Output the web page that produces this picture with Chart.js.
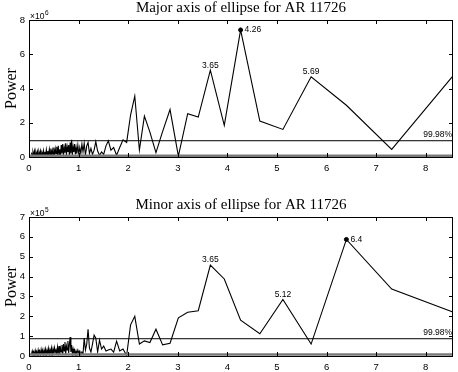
<!DOCTYPE html>
<html>
<head>
<meta charset="utf-8">
<script src="https://cdn.jsdelivr.net/npm/chart.js@4.4.0/dist/chart.umd.min.js"></script>
<style>
  body { margin: 0; background: #fff; }
  .box { position: absolute; left: 0; width: 458px; height: 186px; }
</style>
</head>
<body>
<div class="box" style="top:0"><canvas id="majorChart" width="458" height="186"></canvas></div>
<div class="box" style="top:186px"><canvas id="minorChart" width="458" height="186"></canvas></div>
<script>
// periods (x axis), shared by both panels
var periods = [
  0.05,0.065,0.08,0.095,0.11,0.125,0.14,0.155,0.17,0.185,0.2,0.215,0.23,0.245,0.26,0.275,
  0.29,0.305,0.32,0.335,0.35,0.365,0.38,0.395,0.41,0.425,0.44,0.455,0.47,0.485,0.5,0.515,
  0.53,0.545,0.56,0.575,0.59,0.605,0.62,0.635,0.65,0.665,0.68,0.695,0.71,0.725,0.74,0.755,
  0.77,0.785,0.8,0.815,0.83,0.845,0.86,0.875,0.89,0.905,0.92,0.935,0.95,0.965,
  0.985,1.004,1.024,1.045,1.067,1.089,1.113,1.138,1.164,1.191,1.219,1.249,1.28,1.313,1.347,1.384,
  1.422,1.463,1.506,1.552,1.6,1.652,1.707,1.766,1.829,1.896,1.969,2.048,2.133,2.226,2.327,2.438,
  2.56,2.695,2.844,3.012,3.2,3.413,3.657,3.938,4.267,4.655,5.12,5.689,6.4,7.314,8.533
];

// major axis power (x10^6)
var majorPower = [
  0.25,0.05,0.3,0.1,0.35,0.02,0.28,0.08,0.32,0.05,0.3,0.1,0.36,0.04,0.25,0.12,
  0.38,0.06,0.3,0.02,0.42,0.1,0.35,0.05,0.45,0.12,0.5,0.08,0.4,0.15,0.55,0.05,
  0.48,0.2,0.6,0.1,0.65,0.15,0.45,0.05,0.7,0.2,0.75,0.08,0.55,0.25,0.8,0.1,
  0.6,0.3,0.7,0.05,0.85,0.2,1.0,0.1,0.6,0.3,0.75,0.15,0.55,0.2,
  0.7,0.15,0.55,0.2,0.75,0.3,0.8,0.1,0.65,0.85,0.2,0.5,0.15,0.4,0.9,0.35,
  0.1,0.3,0.15,0.65,0.95,0.4,0.55,0.1,0.55,1.0,0.85,2.45,3.56,0.41,2.39,1.45,
  0.25,1.5,2.77,0.05,2.53,2.33,5.07,1.85,7.42,2.1,1.61,4.68,3.02,0.44,4.68
];

// minor axis power (x10^5)
var minorPower = [
  0.1,0.25,0.02,0.2,0.05,0.28,0.08,0.22,0.03,0.3,0.1,0.25,0.05,0.32,0.08,0.28,
  0.02,0.3,0.12,0.35,0.05,0.3,0.1,0.38,0.08,0.32,0.15,0.4,0.05,0.35,0.12,0.42,
  0.2,0.3,0.05,0.45,0.15,0.5,0.1,0.4,0.2,0.55,0.08,0.6,0.25,0.7,0.1,0.5,
  0.3,0.75,0.15,0.6,0.95,0.2,0.55,0.1,0.35,0.15,0.3,0.05,0.25,0.1,
  0.3,0.15,0.25,0.05,0.2,0.1,0.9,0.3,0.6,1.35,0.4,0.2,0.6,1.05,0.9,0.2,
  0.8,0.35,0.5,0.25,0.3,0.35,0.2,0.75,0.25,0.35,0.02,1.57,2.0,0.6,0.76,0.68,
  1.35,0.56,0.64,1.92,2.2,2.28,4.58,3.88,1.8,1.12,2.85,0.6,5.87,3.37,2.23
];

var majorLevel = 0.95;   // 99.98% significance
var minorLevel = 0.87;
var majorBase = 0.08;
var minorBase = 0.08;

var majorPeaks = [3.657, 4.267, 5.689];
var majorPeakText = ["3.65", "4.26", "5.69"];
var majorMarked = 4.267;
var minorPeaks = [3.657, 5.12, 6.4];
var minorPeakText = ["3.65", "5.12", "6.4"];
var minorMarked = 6.4;

var xMax = 8.55;

function pts(vals) {
  return periods.map(function (p, i) { return { x: p, y: vals[i] }; });
}

var decor = {
  id: "decor",
  afterDatasetsDraw: function (chart, args, o) {
    var ctx = chart.ctx, a = chart.chartArea;
    var xs = chart.scales.x, ys = chart.scales.y;
    ctx.save();
    ctx.strokeStyle = "#000";
    ctx.lineWidth = 1;
    ctx.strokeRect(Math.round(a.left) + 0.5, Math.round(a.top) + 0.5,
      Math.round(a.right - a.left) - 1, Math.round(a.bottom - a.top));
    // inward ticks
    ctx.beginPath();
    xs.ticks.forEach(function (t) {
      var px = Math.round(xs.getPixelForValue(t.value)) + 0.5;
      ctx.moveTo(px, a.top); ctx.lineTo(px, a.top + 4);
      ctx.moveTo(px, a.bottom); ctx.lineTo(px, a.bottom - 4);
    });
    ys.ticks.forEach(function (t) {
      var py = Math.round(ys.getPixelForValue(t.value)) + 0.5;
      ctx.moveTo(a.left, py); ctx.lineTo(a.left + 4, py);
      ctx.moveTo(a.right, py); ctx.lineTo(a.right - 4, py);
    });
    ctx.stroke();

    // peak labels
    ctx.fillStyle = "#000";
    ctx.font = "8.5px 'Liberation Sans', Arial, sans-serif";
    o.peaks.forEach(function (p, i) {
      var v = o.values[periods.indexOf(p)];
      var px = xs.getPixelForValue(p), py = ys.getPixelForValue(v);
      if (p === o.marked) {
        ctx.textAlign = "left"; ctx.textBaseline = "middle";
        ctx.fillText(o.texts[i], px + 4, py);
      } else {
        ctx.textAlign = "center"; ctx.textBaseline = "middle";
        ctx.fillText(o.texts[i], px, py - 5);
      }
    });
    // level label
    ctx.textAlign = "right"; ctx.textBaseline = "bottom";
    ctx.fillText("99.98%", a.right - 1, ys.getPixelForValue(o.level) - 2);

    // exponent
    ctx.textAlign = "left"; ctx.textBaseline = "alphabetic";
    ctx.font = "8.5px 'Liberation Sans', Arial, sans-serif";
    ctx.fillText("\u00d710", a.left + 1, a.top - 1);
    var w = ctx.measureText("\u00d710").width;
    ctx.font = "6.5px 'Liberation Sans', Arial, sans-serif";
    ctx.fillText(o.exp, a.left + 1 + w + 0.5, a.top - 5);

    // title
    ctx.font = "15px 'Liberation Serif', 'Times New Roman', serif";
    ctx.textAlign = "center"; ctx.textBaseline = "middle";
    ctx.fillText(o.title, (a.left + a.right) / 2, a.top - 12);

    // y label
    ctx.translate(12, (a.top + a.bottom) / 2);
    ctx.rotate(-Math.PI / 2);
    ctx.font = "16px 'Liberation Serif', 'Times New Roman', serif";
    ctx.fillText("Power", 0, 0);
    ctx.restore();
  }
};

function makeChart(id, vals, level, base, yMax, padTop, xHeight, opts) {
  var ctx = document.getElementById(id).getContext("2d");
  return new Chart(ctx, {
    type: "scatter",
    data: {
      datasets: [
        {
          data: [{ x: 0, y: base }, { x: xMax, y: base }],
          showLine: true, borderColor: "#7a7a7a", borderWidth: 2.5, pointRadius: 0,
        },
        {
          data: [{ x: 0, y: level }, { x: xMax, y: level }],
          showLine: true, borderColor: "#000", borderWidth: 1, pointRadius: 0,
        },
        {
          data: pts(vals),
          showLine: true, borderColor: "#000", borderWidth: 1.1, pointRadius: 0, tension: 0,
        },
        {
          data: [{ x: opts.marked, y: vals[periods.indexOf(opts.marked)] }],
          pointRadius: 2, pointBackgroundColor: "#000", pointBorderColor: "#000",
        },
      ],
    },
    options: {
      responsive: false,
      animation: false,
      layout: { padding: { top: padTop, right: 2, left: 0, bottom: 0 } },
      plugins: { legend: { display: false }, tooltip: { enabled: false }, decor: opts },
      scales: {
        x: {
          type: "linear", min: 0, max: xMax,
          afterFit: function (s) { s.height = xHeight; },
          grid: { display: false, drawTicks: false }, border: { display: false },
          ticks: { stepSize: 1, includeBounds: false, padding: 6, color: "#000",
                   font: { family: "'Liberation Sans', Arial, sans-serif", size: 9.5 } },
        },
        y: {
          min: 0, max: yMax,
          afterFit: function (s) { s.width = 29; },
          grid: { display: false, drawTicks: false }, border: { display: false },
          ticks: { stepSize: yMax === 8 ? 2 : 1, padding: 4, color: "#000",
                   font: { family: "'Liberation Sans', Arial, sans-serif", size: 9.5 } },
        },
      },
    },
    plugins: [decor],
  });
}

makeChart("majorChart", majorPower, majorLevel, majorBase, 8, 20, 29, {
  title: "Major axis of ellipse for AR 11726", exp: "6", level: majorLevel,
  peaks: majorPeaks, texts: majorPeakText, marked: majorMarked, values: majorPower,
});
makeChart("minorChart", minorPower, minorLevel, minorBase, 7, 31, 16, {
  title: "Minor axis of ellipse for AR 11726", exp: "5", level: minorLevel,
  peaks: minorPeaks, texts: minorPeakText, marked: minorMarked, values: minorPower,
});
</script>
</body>
</html>
